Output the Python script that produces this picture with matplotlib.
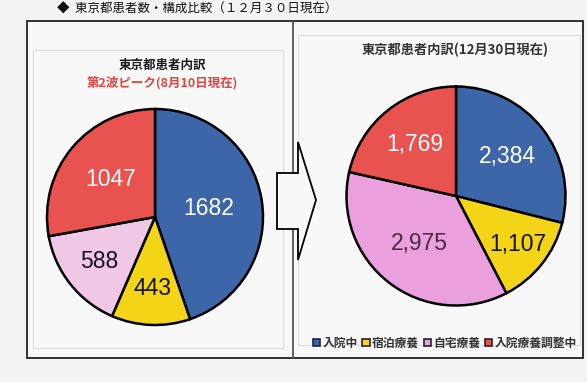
import numpy as np
import matplotlib.pyplot as plt
from matplotlib.patches import Rectangle, Polygon, Patch

plt.rcParams['font.family'] = ['Noto Sans CJK JP', 'DejaVu Sans']

# データ
categories = ['入院中', '宿泊療養', '自宅療養', '入院療養調整中']
peak_values = [1682, 443, 588, 1047]      # 第2波ピーク (8月10日)
dec_values = [2384, 1107, 2975, 1769]     # 12月30日現在
peak_labels = ['1682', '443', '588', '1047']
dec_labels = ['2,384', '1,107', '2,975', '1,769']

colors_left = ['#3d66a9', '#f3d416', '#f0c8e6', '#e8524f']
colors_right = ['#3d66a9', '#f3d416', '#e9a0dc', '#e8524f']
label_colors_left = ['white', '#111111', '#1a1020', 'white']
label_colors_right = ['white', '#111111', '#4b2846', 'white']
label_dist_left = [0.5, 0.66, 0.66, 0.54]
label_dist_right = [0.59, 0.72, 0.55, 0.6]

fig = plt.figure(figsize=(5.87, 3.82), dpi=100, facecolor='#f3f3f3')
ax = fig.add_axes([0, 0, 1, 1])

# 枠
ax.add_patch(Rectangle((27, 21), 556, 337, facecolor='#f8f8f8', edgecolor='#222222', lw=1.3, zorder=0))
ax.plot([293, 293], [21, 358], color='#555555', lw=1.3, zorder=1)
ax.add_patch(Rectangle((33, 50), 250, 298, facecolor='none', edgecolor='#dddddd', lw=0.8, zorder=1))
ax.add_patch(Rectangle((298, 35), 282, 310, facecolor='none', edgecolor='#dddddd', lw=0.8, zorder=1))

# 矢印
arrow = [(277, 173), (298, 173), (298, 142), (316, 200), (298, 260), (298, 229), (277, 229)]
ax.add_patch(Polygon(arrow, closed=True, facecolor='#f8f8f8', edgecolor='black', lw=1.3, zorder=2))


def draw_pie(values, colors, labels, lcolors, ldist, center, r, fs):
    wedges, _ = ax.pie(values, colors=colors, startangle=-90, counterclock=True,
                       center=center, radius=r,
                       wedgeprops=dict(edgecolor='black', linewidth=1.8))
    for w, lab, c, d in zip(wedges, labels, lcolors, ldist):
        th = np.deg2rad((w.theta1 + w.theta2) / 2)
        ax.text(center[0] + r * d * np.cos(th), center[1] + r * d * np.sin(th), lab,
                ha='center', va='center', color=c, fontsize=fs,
                family=['Liberation Sans', 'DejaVu Sans'])
    return wedges


draw_pie(peak_values, colors_left, peak_labels, label_colors_left, label_dist_left,
         (155, 217), 108, 16.5)
draw_pie(dec_values, colors_right, dec_labels, label_colors_right, label_dist_right,
         (456, 196), 109.5, 16.5)

ax.set_xlim(0, 587)
ax.set_ylim(382, 0)
ax.axis('off')

# テキスト
ax.text(57, 9, '◆  東京都患者数・構成比較（１２月３０日現在）', fontsize=9,
        ha='left', va='center', color='#111111')
ax.text(162, 65, '東京都患者内訳', fontsize=9, fontweight='bold', ha='center', va='center',
        color='#1a1a1a')
ax.text(162, 83, '第2波ピーク(8月10日現在)', fontsize=9, fontweight='bold', ha='center',
        va='center', color='#e0453f')
ax.text(455, 50, '東京都患者内訳(12月30日現在)', fontsize=9.5, fontweight='bold', ha='center',
        va='center', color='#333333')

handles = [Patch(facecolor=c, edgecolor='#222233', lw=1.2) for c in colors_right]
fig.legend(handles, categories, ncol=4, loc='center left',
           bbox_to_anchor=(313 / 587, 1 - 343 / 382), frameon=False,
           handlelength=0.6, handleheight=0.6, handletextpad=0.2, columnspacing=0.4,
           borderpad=0, borderaxespad=0,
           prop=dict(family=['Noto Sans CJK JP', 'DejaVu Sans'], weight='bold', size=8.5),
           labelcolor='#333333')

fig.savefig('out.png', dpi=100, facecolor=fig.get_facecolor())
